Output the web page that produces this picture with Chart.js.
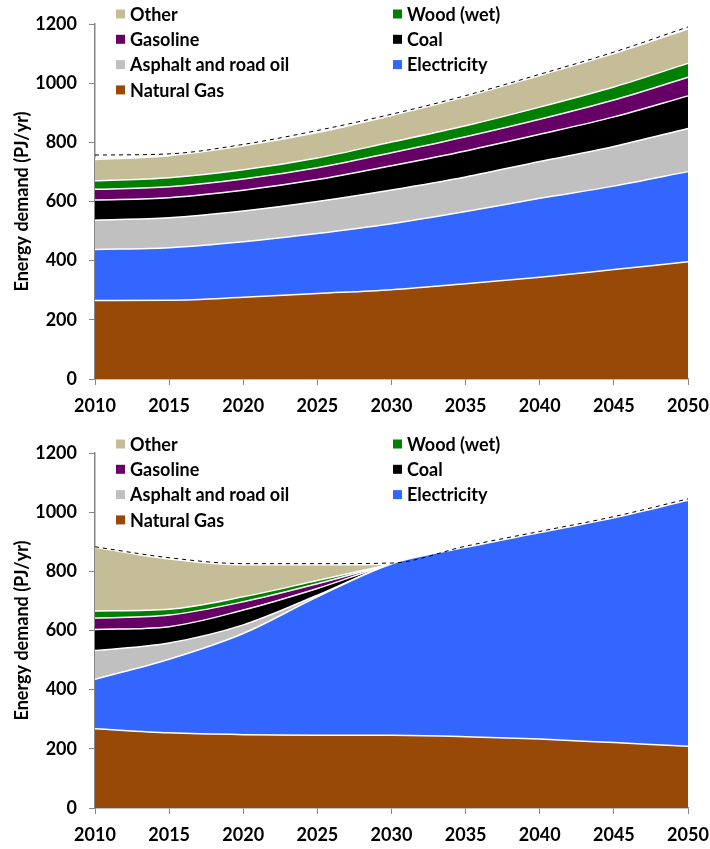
<!DOCTYPE html>
<html>
<head>
<meta charset="utf-8">
<script src="https://cdn.jsdelivr.net/npm/chart.js@4.4.1/dist/chart.umd.min.js"></script>
<style>
  body { margin: 0; background: #fff; }
  canvas { position: absolute; left: 0; }
</style>
</head>
<body>
<canvas id="chartTop" width="710" height="420" style="top:0"></canvas>
<canvas id="chartBottom" width="710" height="420" style="top:429px"></canvas>
<script>
const years = ['2010', '2015', '2020', '2025', '2030', '2035', '2040', '2045', '2050'];
const seriesNames = ['Natural Gas', 'Electricity', 'Asphalt and road oil', 'Coal', 'Gasoline', 'Wood (wet)', 'Other'];
const seriesColors = ['#984807', '#3366FF', '#C0C0C0', '#000000', '#660066', '#008000', '#C4BD97'];
const yTicks = [0, 200, 400, 600, 800, 1000, 1200];

// top chart
const gasTop = [265, 266, 276, 289, 302, 322, 344, 370, 396];
const elecTop = [173, 178, 188, 203, 223, 244, 267, 282, 305];
const asphaltTop = [99, 101, 104, 108, 114, 117, 124, 134, 146];
const coalTop = [68, 68, 70, 74, 82, 88, 92, 100, 110];
const gasolineTop = [36, 37, 38, 40, 44, 48, 51, 57, 63];
const woodTop = [29, 30, 31, 33, 36, 37, 41, 44, 47];
const otherTop = [72, 75, 81, 86, 90, 98, 107, 113, 116];
const totalTop = [757, 761, 793, 840, 895, 958, 1030, 1105, 1190];

// bottom chart
const gasBot = [268, 254, 248, 246, 246, 241, 233, 221, 209];
const elecBot = [167, 249, 342, 468, 579, 640, 698, 760, 831];
const asphaltBot = [97, 55, 29, 5, 0, 0, 0, 0, 0];
const coalBot = [71, 55, 50, 23, 0, 0, 0, 0, 0];
const gasolineBot = [39, 39, 28, 16, 0, 0, 0, 0, 0];
const woodBot = [24, 20, 17, 11, 0, 0, 0, 0, 0];
const otherBot = [215, 170, 108, 53, 0, 0, 0, 0, 0];
const totalBot = [883, 846, 826, 826, 828, 885, 935, 985, 1045];

Chart.defaults.font.family = 'Lato, "Liberation Sans", sans-serif';
Chart.defaults.color = '#000';

const axisGray = '#868686';

// legend drawn inside the plot, two columns, top series first
const insideLegend = {
  id: 'insideLegend',
  afterDraw(chart, args, opts) {
    const ctx = chart.ctx;
    const order = [6, 5, 4, 3, 2, 1, 0];
    ctx.save();
    ctx.font = 'bold 18px Lato';
    ctx.textBaseline = 'middle';
    order.forEach((idx, i) => {
      const ds = chart.data.datasets[idx];
      const col = i % 2;
      const row = Math.floor(i / 2);
      const x = opts.x + col * opts.colGap;
      const y = opts.y + row * opts.rowGap;
      ctx.fillStyle = ds.backgroundColor;
      ctx.fillRect(x, y - 4.5, 9, 9);
      ctx.fillStyle = '#000';
      ctx.fillText(ds.label, x + 14, y + 1);
    });
    ctx.restore();
  }
};

function makeChart(id, values, total, legendY) {
  const datasets = values.map((v, i) => ({
    label: seriesNames[i],
    data: v,
    stack: 'areas',
    backgroundColor: seriesColors[i],
    borderColor: '#fff',
    borderWidth: 1.5,
    fill: i === 0 ? 'origin' : '-1',
    pointRadius: 0,
    cubicInterpolationMode: 'monotone'
  }));
  datasets.push({
    label: 'Total',
    data: total,
    stack: 'total',
    order: -1,
    fill: false,
    borderColor: '#000',
    borderWidth: 1,
    borderDash: [4, 4],
    pointRadius: 0,
    cubicInterpolationMode: 'monotone'
  });

  return new Chart(document.getElementById(id), {
    type: 'line',
    data: { labels: years, datasets: datasets },
    options: {
      responsive: false,
      animation: false,
      layout: { padding: { top: 24, right: 22, left: 0, bottom: 0 } },
      plugins: {
        legend: { display: false },
        tooltip: { enabled: false },
        insideLegend: { x: 116, y: legendY, colGap: 277, rowGap: 25.3 }
      },
      scales: {
        x: {
          ticks: { padding: 10, maxRotation: 0, autoSkip: false, font: { size: 18, weight: 'bold' } },
          grid: { drawOnChartArea: false, tickLength: 6, color: axisGray },
          border: { color: axisGray, width: 1.5 },
          afterFit: s => { s.height = 41; s.paddingLeft = 0; s.paddingRight = 0; }
        },
        y: {
          stacked: true,
          min: 0,
          max: 1200,
          afterBuildTicks: s => { s.ticks = yTicks.map(v => ({ value: v })); },
          ticks: { padding: 12, font: { size: 18, weight: 'bold' }, callback: v => String(v) },
          grid: { drawOnChartArea: false, tickLength: 6, color: axisGray },
          border: { color: axisGray, width: 1.5 },
          title: {
            display: true,
            text: 'Energy demand (PJ/yr)',
            font: { size: 18, weight: 'bold' },
            padding: { top: 11, bottom: 0 }
          },
          afterFit: s => { s.width = 95; }
        }
      }
    },
    plugins: [insideLegend]
  });
}

makeChart('chartTop', [gasTop, elecTop, asphaltTop, coalTop, gasolineTop, woodTop, otherTop], totalTop, 14);
makeChart('chartBottom', [gasBot, elecBot, asphaltBot, coalBot, gasolineBot, woodBot, otherBot], totalBot, 15);
</script>
</body>
</html>
